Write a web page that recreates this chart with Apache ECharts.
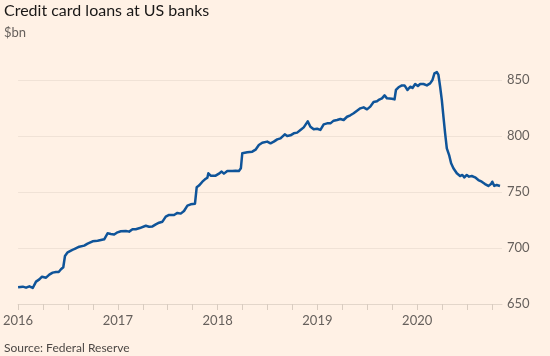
<!DOCTYPE html>
<html>
<head>
<meta charset="utf-8">
<script src="https://cdn.jsdelivr.net/npm/echarts@6/dist/echarts.min.js"></script>
<style>
html,body{margin:0;padding:0;background:#FFF1E5;}
#chart{width:550px;height:356px;}
</style>
</head>
<body>
<div id="chart"></div>
<script>
// Decimal-year positions of the weekly readings
const years = [
2016.000,2016.047,2016.080,2016.113,2016.147,2016.180,2016.213,2016.240,2016.280,2016.313,
2016.347,2016.380,2016.407,2016.430,2016.453,2016.470,2016.497,2016.530,2016.563,2016.613,
2016.663,2016.697,2016.747,2016.797,2016.863,2016.897,2016.930,2016.963,2016.997,2017.030,
2017.047,2017.080,2017.113,2017.147,2017.180,2017.220,2017.280,2017.313,2017.347,2017.380,
2017.413,2017.447,2017.480,2017.513,2017.563,2017.597,2017.630,2017.663,2017.697,2017.730,
2017.773,2017.790,2017.813,2017.847,2017.873,2017.897,2017.907,2017.930,2017.980,2018.013,
2018.040,2018.063,2018.097,2018.147,2018.180,2018.197,2018.213,2018.233,2018.247,2018.297,
2018.347,2018.380,2018.413,2018.447,2018.497,2018.530,2018.563,2018.597,2018.630,2018.673,
2018.697,2018.730,2018.763,2018.797,2018.830,2018.863,2018.880,2018.903,2018.930,2018.963,
2018.997,2019.030,2019.063,2019.097,2019.130,2019.163,2019.197,2019.230,2019.263,2019.297,
2019.330,2019.363,2019.397,2019.430,2019.463,2019.497,2019.530,2019.563,2019.597,2019.620,
2019.647,2019.673,2019.697,2019.747,2019.773,2019.787,2019.813,2019.847,2019.873,2019.903,
2019.930,2019.953,2019.980,2020.007,2020.030,2020.063,2020.097,2020.130,2020.153,2020.173,
2020.197,2020.213,2020.230,2020.247,2020.263,2020.280,2020.297,2020.320,2020.340,2020.363,
2020.397,2020.430,2020.453,2020.473,2020.497,2020.520,2020.547,2020.580,2020.613,2020.647,
2020.680,2020.713,2020.740,2020.753,2020.773,2020.797,2020.830
];
// Credit card loans, $bn
const loans = [
665.0,665.5,664.6,665.8,664.3,670.0,672.0,674.4,673.5,676.2,
678.0,678.6,678.6,681.0,682.8,692.9,696.1,697.6,699.1,701.2,
702.1,703.9,706.0,706.5,707.8,713.1,712.5,712.0,714.0,715.0,
713.4,715.2,714.6,716.7,716.8,717.8,719.9,719.0,719.3,721.1,
722.6,723.5,728.0,729.5,729.5,731.3,730.7,733.0,737.8,739.0,
739.6,754.2,755.7,759.2,761.3,762.8,766.7,764.6,764.6,766.4,
768.2,766.4,768.8,768.8,769.0,770.3,768.8,771.2,784.6,785.4,
786.0,787.8,792.0,794.0,795.0,793.5,795.0,797.0,797.9,801.5,
800.0,800.6,802.4,803.0,805.4,807.7,808.9,813.1,808.3,806.0,
806.5,805.4,810.4,811.3,811.3,813.7,814.3,815.2,814.3,817.2,
818.5,820.3,822.6,824.7,825.6,823.8,826.2,830.4,831.0,832.5,
833.6,836.3,833.6,833.3,832.7,841.1,843.5,845.2,845.2,841.1,
844.0,842.9,846.4,844.6,846.4,846.4,845.2,847.0,850.0,856.0,
857.1,854.5,844.0,832.1,817.2,802.4,789.0,783.0,775.6,771.2,
766.7,764.3,765.2,763.1,765.2,763.7,764.3,763.1,760.7,759.2,
757.1,755.4,757.1,759.2,755.4,756.3,755.4
];
const yearLabels = [2016, 2017, 2018, 2019, 2020];
const quarterTicks = [];
for (let y = 2016; y <= 2020.76; y += 0.25) quarterTicks.push(+y.toFixed(2));

const series = years.map((y, i) => [y, loans[i]]);

const chart = echarts.init(document.getElementById('chart'), null, {renderer: 'canvas'});
const FONT = 'Lato, "Noto Sans", sans-serif';
chart.setOption({
  backgroundColor: '#FFF1E5',
  animation: false,
  textStyle: {fontFamily: FONT},
  title: [
    {text: 'Credit card loans at US banks', left: 4, top: 3, padding: 0,
     textStyle: {fontFamily: FONT, fontSize: 16, fontWeight: 'normal', color: '#1a1817'}},
    {text: '$bn', left: 4, top: 26, padding: 0,
     textStyle: {fontFamily: FONT, fontSize: 13, fontWeight: 'normal', color: '#66605c'}},
    {text: 'Source: Federal Reserve', left: 4, top: 342, padding: 0,
     textStyle: {fontFamily: FONT, fontSize: 12, fontWeight: 'normal', color: '#4d4845'}}
  ],
  grid: {left: 17, right: 48, top: 80, bottom: 52, containLabel: false},
  xAxis: {
    type: 'value', min: 2016, max: 2020.85,
    axisLine: {show: true, lineStyle: {color: '#e3d6ca', width: 1}},
    axisTick: {show: true, length: 6, inside: false, customValues: quarterTicks,
               lineStyle: {color: '#d9ccc0'}},
    axisLabel: {customValues: yearLabels, margin: 10, fontSize: 13, color: '#66605c',
                fontFamily: FONT, formatter: v => String(Math.round(v))},
    splitLine: {show: false}
  },
  yAxis: {
    type: 'value', position: 'right', min: 650, max: 850, interval: 50,
    axisLine: {show: false}, axisTick: {show: false},
    axisLabel: {margin: 5, fontSize: 13, color: '#66605c', fontFamily: FONT},
    splitLine: {show: true, lineStyle: {color: '#f0e2d6', width: 1}}
  },
  series: [{
    type: 'line', data: series, showSymbol: false, clip: false,
    lineStyle: {color: '#0f5499', width: 2.5, join: 'round'},
    smooth: false
  }]
});
</script>
</body>
</html>
